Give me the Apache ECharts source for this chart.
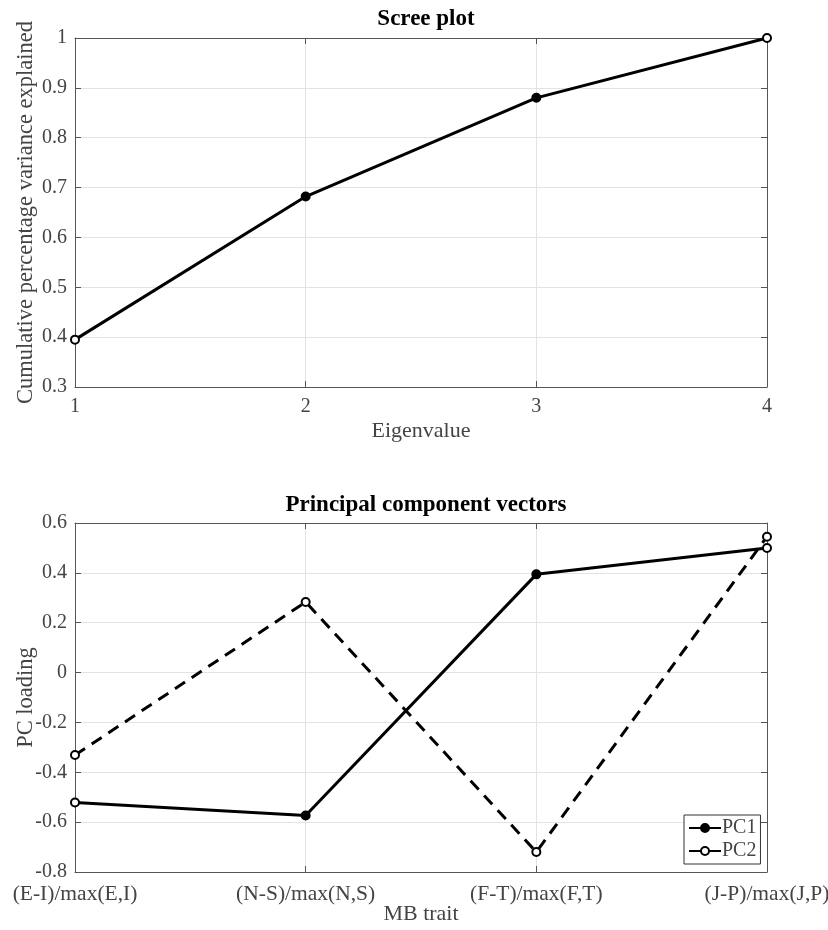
<!DOCTYPE html>
<html>
<head>
<meta charset="utf-8">
<script src="https://cdn.jsdelivr.net/npm/echarts@6/dist/echarts.min.js"></script>
<style>
  html, body { margin: 0; padding: 0; background: #fff; }
  #chart { width: 828px; height: 930px; }
</style>
</head>
<body>
<div id="chart"></div>
<script>
// Scree plot: cumulative variance explained per eigenvalue
const eigenvalues = [1, 2, 3, 4];
const cumulativeVariance = [0.395, 0.682, 0.880, 1.0];

// Principal component loadings per Myers-Briggs trait
const traits = ['(E-I)/max(E,I)', '(N-S)/max(N,S)', '(F-T)/max(F,T)', '(J-P)/max(J,P)'];
const pc1 = [-0.521, -0.573, 0.394, 0.50];
const pc2 = [-0.331, 0.283, -0.720, 0.545];

const FONT = '"Liberation Serif", "DejaVu Serif", serif';
const AXIS_COLOR = '#555';
const TEXT_COLOR = '#444';
const GRID_COLOR = '#e3e3e3';

// markers at the two ends are drawn hollow, the inner ones filled
function styledPoints(xs, ys, hollowIdx) {
  return ys.map((y, i) => {
    const p = { value: xs ? [xs[i], y] : y };
    if (hollowIdx.includes(i)) p.itemStyle = { color: '#fff', borderColor: '#000', borderWidth: 2 };
    return p;
  });
}

function frameAxis(gridIndex, position, extra) {
  return Object.assign({
    gridIndex, position,
    axisLine: { show: true, onZero: false, lineStyle: { color: AXIS_COLOR, width: 1 } },
    axisTick: { show: true, inside: true, length: 6, lineStyle: { color: AXIS_COLOR } },
    axisLabel: { show: false },
    splitLine: { show: false }
  }, extra);
}

const chart = echarts.init(document.getElementById('chart'), null, { renderer: 'canvas' });

chart.setOption({
  animation: false,
  backgroundColor: '#fff',
  textStyle: { fontFamily: FONT },
  title: [
    { text: 'Scree plot', left: 421, top: 3, textAlign: 'center',
      textStyle: { fontFamily: FONT, fontSize: 23, fontWeight: 'bold', color: '#000' } },
    { text: 'Principal component vectors', left: 421, top: 489, textAlign: 'center',
      textStyle: { fontFamily: FONT, fontSize: 23, fontWeight: 'bold', color: '#000' } }
  ],
  grid: [
    { left: 75, top: 38, width: 692, height: 349, containLabel: false, outerBoundsMode: 'none' },
    { left: 75, top: 523, width: 692, height: 349, containLabel: false, outerBoundsMode: 'none' }
  ],
  legend: {
    data: ['PC1', 'PC2'],
    left: 684, top: 815,
    orient: 'vertical',
    backgroundColor: '#fff',
    borderColor: '#333', borderWidth: 1,
    padding: [3, 4, 3, 4],
    itemGap: 3,
    itemWidth: 32, itemHeight: 10,
    textStyle: { fontFamily: FONT, fontSize: 20, color: TEXT_COLOR, padding: [0, 0, 0, -4] }
  },
  xAxis: [
    {
      type: 'value', gridIndex: 0, position: 'bottom',
      min: 1, max: 4, interval: 1,
      name: 'Eigenvalue', nameLocation: 'middle', nameGap: 33, nameMoveOverlap: false,
      nameTextStyle: { fontFamily: FONT, fontSize: 22, color: TEXT_COLOR },
      axisLine: { show: true, onZero: false, lineStyle: { color: AXIS_COLOR, width: 1 } },
      axisTick: { show: true, inside: true, length: 6, lineStyle: { color: AXIS_COLOR } },
      axisLabel: { fontFamily: FONT, fontSize: 20, color: TEXT_COLOR, margin: 10 },
      splitLine: { show: true, lineStyle: { color: GRID_COLOR, width: 1 } }
    },
    frameAxis(0, 'top', { type: 'value', min: 1, max: 4, interval: 1 }),
    {
      type: 'category', gridIndex: 1, position: 'bottom',
      data: traits, boundaryGap: false,
      name: 'MB trait', nameLocation: 'middle', nameGap: 31, nameMoveOverlap: false,
      nameTextStyle: { fontFamily: FONT, fontSize: 22, color: TEXT_COLOR },
      axisLine: { show: true, onZero: false, lineStyle: { color: AXIS_COLOR, width: 1 } },
      axisTick: { show: true, inside: true, length: 6, alignWithLabel: true, lineStyle: { color: AXIS_COLOR } },
      axisLabel: { fontFamily: FONT, fontSize: 21.5, color: TEXT_COLOR, margin: 11, interval: 0, hideOverlap: false },
      splitLine: { show: true, interval: 0, lineStyle: { color: GRID_COLOR, width: 1 } }
    },
    frameAxis(1, 'top', { type: 'category', data: traits, boundaryGap: false })
  ],
  yAxis: [
    {
      type: 'value', gridIndex: 0, position: 'left',
      min: 0.3, max: 1, interval: 0.1,
      name: 'Cumulative percentage variance explained', nameLocation: 'middle', nameGap: 37,
      nameMoveOverlap: false,
      nameTextStyle: { fontFamily: FONT, fontSize: 22.5, color: TEXT_COLOR },
      axisLine: { show: true, onZero: false, lineStyle: { color: AXIS_COLOR, width: 1 } },
      axisTick: { show: true, inside: true, length: 6, lineStyle: { color: AXIS_COLOR } },
      axisLabel: { fontFamily: FONT, fontSize: 20, color: TEXT_COLOR, margin: 8,
        formatter: v => (Math.round(v * 10) / 10).toString() },
      splitLine: { show: true, lineStyle: { color: GRID_COLOR, width: 1 } }
    },
    frameAxis(0, 'right', { type: 'value', min: 0.3, max: 1, interval: 0.1 }),
    {
      type: 'value', gridIndex: 1, position: 'left',
      min: -0.8, max: 0.6, interval: 0.2,
      name: 'PC loading', nameLocation: 'middle', nameGap: 37,
      nameMoveOverlap: false,
      nameTextStyle: { fontFamily: FONT, fontSize: 22.5, color: TEXT_COLOR },
      axisLine: { show: true, onZero: false, lineStyle: { color: AXIS_COLOR, width: 1 } },
      axisTick: { show: true, inside: true, length: 6, lineStyle: { color: AXIS_COLOR } },
      axisLabel: { fontFamily: FONT, fontSize: 20, color: TEXT_COLOR, margin: 8,
        formatter: v => (Math.round(v * 10) / 10).toString() },
      splitLine: { show: true, lineStyle: { color: GRID_COLOR, width: 1 } }
    },
    frameAxis(1, 'right', { type: 'value', min: -0.8, max: 0.6, interval: 0.2 })
  ],
  series: [
    {
      name: 'Cumulative', type: 'line', xAxisIndex: 0, yAxisIndex: 0,
      data: styledPoints(eigenvalues, cumulativeVariance, [0, 3]),
      symbol: 'circle', symbolSize: 8, clip: false,
      lineStyle: { color: '#000', width: 3 },
      itemStyle: { color: '#000', borderColor: '#000', borderWidth: 2 }
    },
    {
      name: 'PC1', type: 'line', xAxisIndex: 2, yAxisIndex: 2,
      data: styledPoints(null, pc1, [0, 3]),
      symbol: 'circle', symbolSize: 8, clip: false,
      lineStyle: { color: '#000', width: 3 },
      itemStyle: { color: '#000', borderColor: '#000', borderWidth: 2 }
    },
    {
      name: 'PC2', type: 'line', xAxisIndex: 2, yAxisIndex: 2,
      data: styledPoints(null, pc2, []),
      symbol: 'circle', symbolSize: 8, clip: false,
      lineStyle: { color: '#000', width: 3, type: [12, 8] },
      itemStyle: { color: '#fff', borderColor: '#000', borderWidth: 2 }
    }
  ]
});
</script>
</body>
</html>
